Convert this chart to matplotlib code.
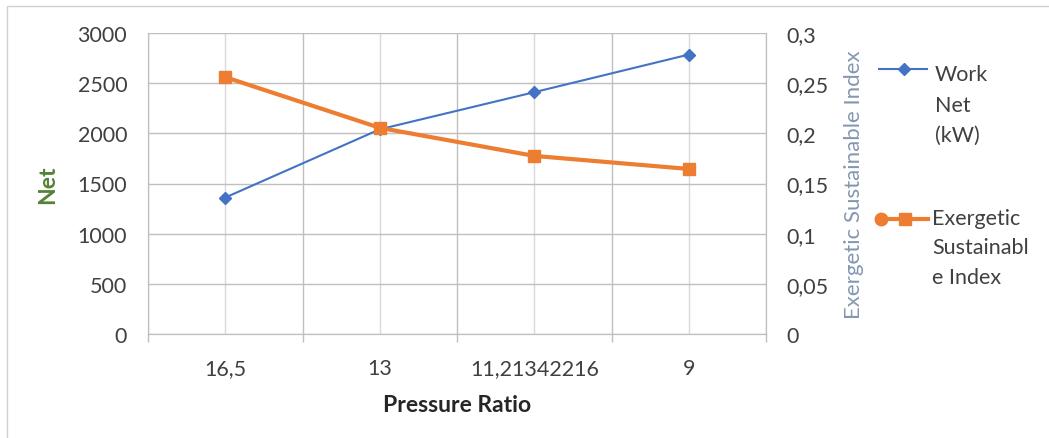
import matplotlib.pyplot as plt
from matplotlib.lines import Line2D
from matplotlib.patches import Rectangle

plt.rcParams['font.family'] = ['Lato', 'DejaVu Sans']

# data
categories = ['16,5', '13', '11,21342216', '9']
work_net = [1360, 2040, 2410, 2785]
esi = [0.256, 0.2055, 0.1775, 0.1645]
left_ticks = [0, 500, 1000, 1500, 2000, 2500, 3000]
right_ticks = [0, 0.05, 0.1, 0.15, 0.2, 0.25, 0.3]
right_labels = ['0', '0,05', '0,1', '0,15', '0,2', '0,25', '0,3']

W, H = 1049, 439
fig = plt.figure(figsize=(W / 100, H / 100), dpi=100)
ax = fig.add_axes([148 / W, 1 - 335 / H, (766 - 148) / W, (335 - 34) / H])
ax2 = ax.twinx()

blue = '#4472C4'
orange = '#ED7D31'
grid_c = '#bfbfbf'
txt_c = '#404040'
fs = 15.5

x = list(range(len(categories)))
ax.plot(x, work_net, color=blue, lw=1.5, marker='D', ms=6, zorder=3)
ax2.plot(x, esi, color=orange, lw=3, marker='s', ms=9, zorder=3)

ax.set_xlim(-0.5, len(categories) - 0.5)
ax.set_ylim(0, 3000)
ax2.set_ylim(0, 0.3)

ax.set_xticks(x)
ax.set_xticklabels(categories, fontsize=fs, color=txt_c)
ax.set_xticks([i - 0.5 for i in range(len(categories) + 1)], minor=True)
ax.tick_params(axis='x', which='major', length=0, pad=17)
ax.tick_params(axis='x', which='minor', length=6, color=grid_c, width=1)
ax.grid(axis='x', which='major', color='#d9d9d9', lw=1)
ax.grid(axis='x', which='minor', color=grid_c, lw=1)

ax.set_yticks(left_ticks)
ax.set_yticklabels([str(v) for v in left_ticks], fontsize=fs, color=txt_c)
ax.tick_params(axis='y', length=0, pad=15)
ax.grid(axis='y', color=grid_c, lw=1)
ax.set_axisbelow(True)

ax2.set_yticks(right_ticks)
ax2.set_yticklabels(right_labels, fontsize=fs, color=txt_c)
ax2.tick_params(axis='y', length=0, pad=15)

for a in (ax, ax2):
    for s in a.spines.values():
        s.set_visible(False)
    for side in ('bottom', 'left', 'right'):
        a.spines[side].set_visible(True)
        a.spines[side].set_color(grid_c)

ax.set_xlabel('Pressure Ratio', fontsize=16.5, fontweight='bold', color='#262626', labelpad=12)
ax.set_ylabel('Net', fontsize=16.5, fontweight='bold', color='#548235', labelpad=14)
ax2.set_ylabel('Exergetic Sustainable Index', fontsize=16, color='#8497B0', labelpad=11)

# legend drawn by hand to keep Excel's layout
def px(xp, yp):
    return xp / W, 1 - yp / H

tf = fig.transFigure
fig.add_artist(Line2D([879 / W, 927 / W], [1 - 70 / H] * 2, color=blue, lw=1.5, transform=tf))
fig.add_artist(Line2D([904 / W], [1 - 70 / H], color=blue, marker='D', ms=6, transform=tf))
for i, t in enumerate(['Work', 'Net', '(kW)']):
    fig.text(*px(935, 75 + i * 30.5), t, fontsize=fs, color=txt_c, va='center', ha='left')

fig.add_artist(Line2D([882 / W, 928 / W], [1 - 220 / H] * 2, color=orange, lw=3, transform=tf))
fig.add_artist(Line2D([881 / W], [1 - 220 / H], color=orange, marker='o', ms=9, transform=tf))
fig.add_artist(Line2D([905 / W], [1 - 220 / H], color=orange, marker='s', ms=9, transform=tf))
for i, t in enumerate(['Exergetic', 'Sustainabl', 'e Index']):
    fig.text(*px(932, 219 + i * 29.5), t, fontsize=fs, color=txt_c, va='center', ha='left')

# outer chart border
fig.add_artist(Rectangle((7 / W, -0.05), 1.2, 1 - 7 / H + 0.05, fill=False,
                         edgecolor='#d0d0d0', lw=1, transform=tf))

fig.savefig('out.png', dpi=100, facecolor='white')
